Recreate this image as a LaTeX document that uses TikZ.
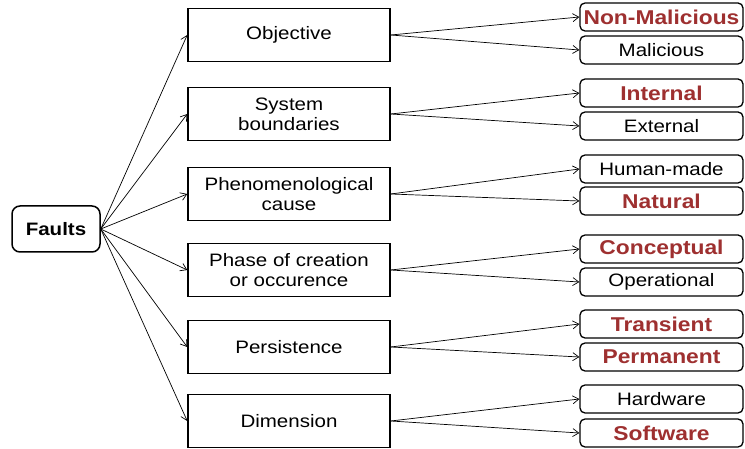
\documentclass[tikz,border=0pt]{standalone}
\usepackage{fontspec}
\setmainfont[FakeStretch=1.14]{Liberation Sans}
\usetikzlibrary{arrows.meta}
\definecolor{faultred}{RGB}{158,48,48}
\tikzset{
  root/.style={draw,line width=1.5pt,rounded corners=8pt,minimum width=88pt,minimum height=46pt,
    font=\fontsize{18}{19}\selectfont\bfseries},
  class/.style={draw,line width=1.5pt,minimum width=202pt,minimum height=53pt,align=center,
    font=\fontsize{18}{20}\selectfont},
  leaf/.style={draw,line width=1.3pt,rounded corners=5pt,minimum width=163pt,minimum height=28pt,
    inner sep=0pt,font=\fontsize{18}{19}\selectfont},
  hit/.style={leaf,text=faultred,font=\fontsize{20}{21}\selectfont\bfseries},
  link/.style={-{Straight Barb[length=6pt,width=8pt]},line width=0.7pt}
}
\begin{document}
\begin{tikzpicture}[x=1pt,y=-1pt]
  \useasboundingbox (0,0) rectangle (745,449);
  \node[root] (faults) at (56,229) {Faults};
  % classes
  \node[class] (obj) at (289,35) {Objective};
  \node[class] (sys) at (289,114) {System\\boundaries};
  \node[class] (phen) at (289,194) {Phenomenological\\cause};
  \node[class] (phase) at (289,270) {Phase of creation\\or occurence};
  \node[class] (pers) at (289,347) {Persistence};
  \node[class] (dim) at (289,421) {Dimension};
  % leaves
  \node[hit] (nonmal) at (661.5,17) {Non-Malicious};
  \node[leaf] (mal) at (661.5,50) {Malicious};
  \node[hit] (int) at (661.5,93) {Internal};
  \node[leaf] (ext) at (661.5,126) {External};
  \node[leaf] (human) at (661.5,169) {Human-made};
  \node[hit] (nat) at (661.5,201) {Natural};
  \node[hit] (conc) at (661.5,249) {Conceptual};
  \node[leaf] (oper) at (661.5,282) {Operational};
  \node[hit] (trans) at (661.5,324) {Transient};
  \node[hit] (perm) at (661.5,357) {Permanent};
  \node[leaf] (hard) at (661.5,399) {Hardware};
  \node[hit] (soft) at (661.5,433) {Software};
  % connectors
  \foreach \c in {obj,sys,phen,phase,pers,dim}
    \draw[link] (faults.east) -- (\c.west);
  \foreach \c/\a/\b in {obj/nonmal/mal,sys/int/ext,phen/human/nat,phase/conc/oper,pers/trans/perm,dim/hard/soft}{
    \draw[link] (\c.east) -- (\a.west);
    \draw[link] (\c.east) -- (\b.west);
  }
\end{tikzpicture}
\end{document}
